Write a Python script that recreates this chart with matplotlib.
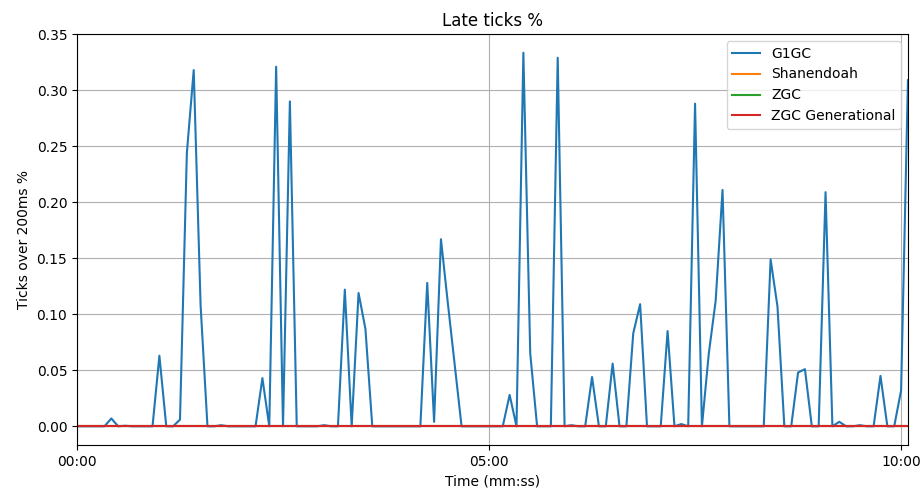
import numpy as np
import matplotlib
matplotlib.use("Agg")
import matplotlib.pyplot as plt
from matplotlib.ticker import FuncFormatter, MultipleLocator

# samples every 5 seconds
seconds = np.arange(122) * 5

g1gc = [0, 0, 0, 0, 0, 0.007, 0, 0.0005, 0, 0,
        0, 0, 0.063, 0, 0, 0.006, 0.244, 0.318, 0.108, 0,
        0, 0.001, 0, 0, 0, 0, 0, 0.043, 0, 0.321,
        0, 0.290, 0, 0, 0, 0, 0.001, 0, 0, 0.122,
        0, 0.119, 0.087, 0, 0, 0, 0, 0, 0, 0,
        0, 0.128, 0.004, 0.167, 0.110, 0.055, 0, 0, 0, 0,
        0, 0, 0, 0.028, 0, 0.3335, 0.065, 0, 0, 0,
        0.329, 0, 0.001, 0, 0, 0.044, 0, 0, 0.056, 0,
        0, 0.083, 0.109, 0, 0, 0, 0.085, 0, 0.002, 0,
        0.288, 0, 0.065, 0.112, 0.211, 0, 0, 0, 0, 0,
        0, 0.149, 0.107, 0, 0, 0.048, 0.051, 0, 0, 0.209,
        0, 0.004, 0, 0, 0.001, 0, 0, 0.045, 0, 0,
        0.032, 0.309]
shenandoah = [0] * 122
zgc = [0] * 122
zgc_gen = [0] * 122

fig, ax = plt.subplots(figsize=(9.23, 4.93), dpi=100)
fig.subplots_adjust(left=0.0834, right=0.9837, top=0.931, bottom=0.0974)

ax.plot(seconds, g1gc, label="G1GC")
ax.plot(seconds, shenandoah, label="Shanendoah")
ax.plot(seconds, zgc, label="ZGC")
ax.plot(seconds, zgc_gen, label="ZGC Generational")

ax.set_xlim(seconds[0], seconds[-1])
ax.xaxis.set_major_locator(MultipleLocator(300))
ax.xaxis.set_major_formatter(FuncFormatter(lambda s, pos: "%02d:%02d" % (s // 60, s % 60)))

ax.set_title("Late ticks %")
ax.set_xlabel("Time (mm:ss)")
ax.set_ylabel("Ticks over 200ms %")
ax.grid(True)
ax.legend(loc="upper right")

plt.savefig("out.png")
